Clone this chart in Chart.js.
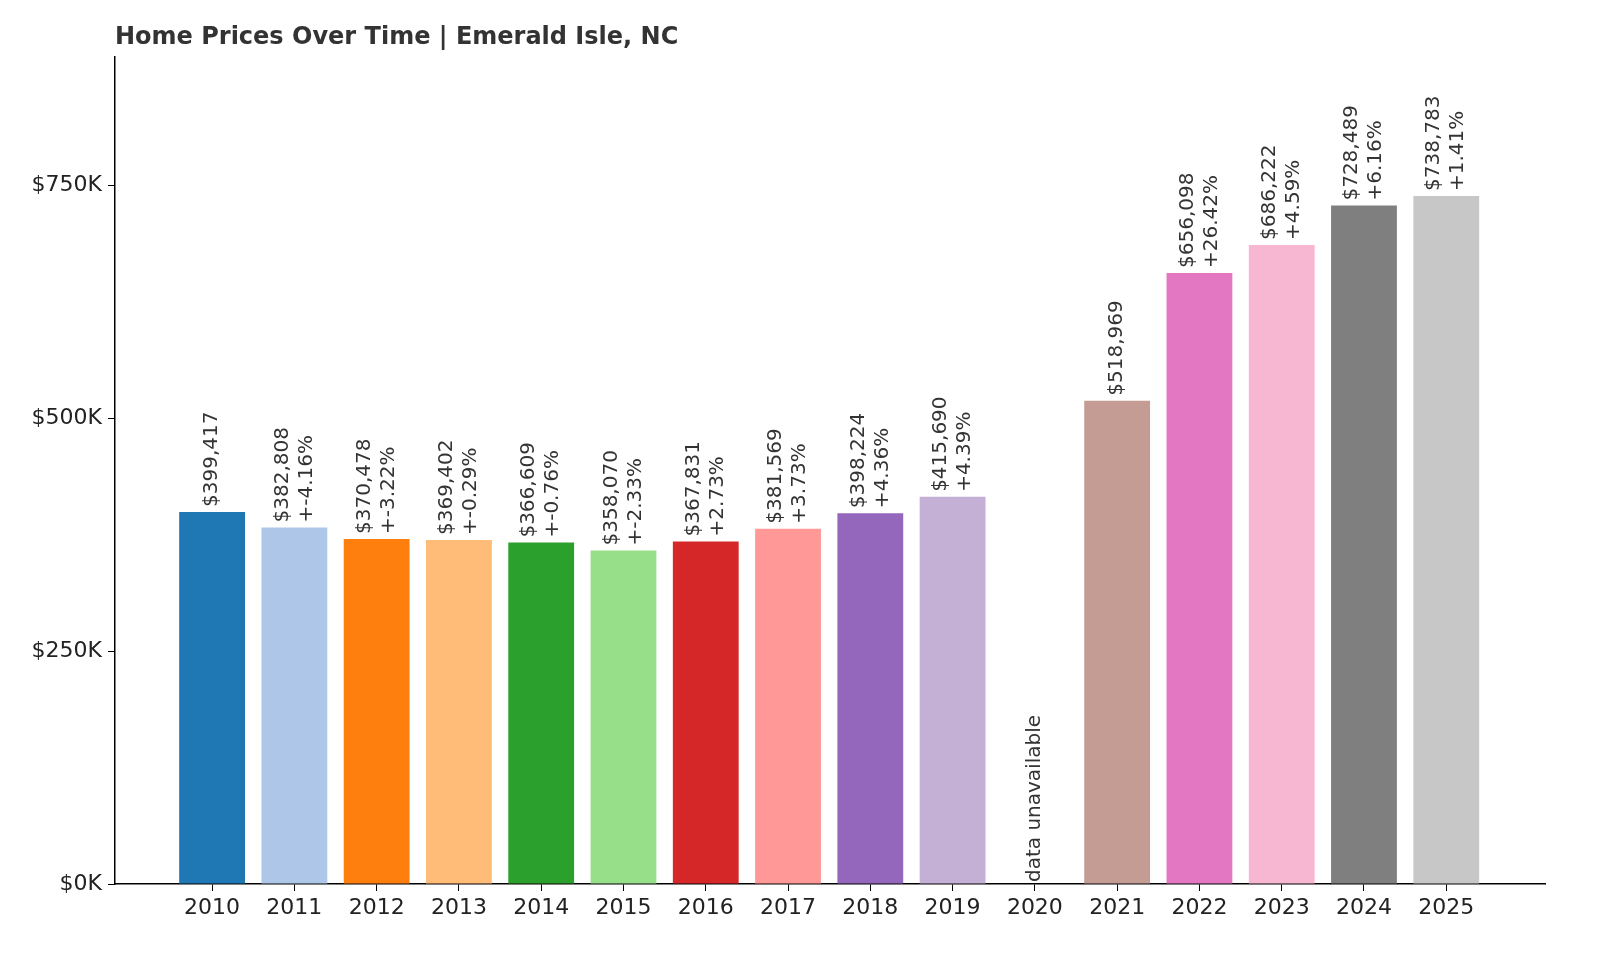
<!DOCTYPE html>
<html><head><meta charset="utf-8">
<script src="https://cdn.jsdelivr.net/npm/chart.js@4/dist/chart.umd.min.js"></script>
<style>body{margin:0;background:#fff}canvas{display:block}</style>
</head><body><canvas id="c" width="1600" height="960"></canvas>
<script>
const years = ["2010","2011","2012","2013","2014","2015","2016","2017","2018","2019","2020","2021","2022","2023","2024","2025"];
const prices = [399417,382808,370478,369402,366609,358070,367831,381569,398224,415690,null,518969,656098,686222,728489,738783];
const changes = [null,"+-4.16%","+-3.22%","+-0.29%","+-0.76%","+-2.33%","+2.73%","+3.73%","+4.36%","+4.39%",null,null,"+26.42%","+4.59%","+6.16%","+1.41%"];
const colors = ["#1f77b4","#aec7e8","#ff7f0e","#ffbb78","#2ca02c","#98df8a","#d62728","#ff9896","#9467bd","#c5b0d5","#8c564b","#c49c94","#e377c2","#f7b6d2","#7f7f7f","#c7c7c7"];
const yTicks = [0,250000,500000,750000];

const labelPlugin = {
  id:'lbl',
  afterDatasetsDraw(chart){
    const ctx = chart.ctx;
    const ys = chart.scales.y;
    ctx.save();
    ctx.font = '20px "DejaVu Sans"';
    ctx.fillStyle = '#333';
    ctx.textBaseline = 'middle';
    ctx.textAlign = 'left';
    years.forEach((y,i)=>{
      const x = chart.scales.x.getPixelForValue(i);
      let lines, base;
      if (prices[i]==null){ lines=["data unavailable"]; base = ys.getPixelForValue(0)-2; }
      else {
        lines=["$"+prices[i].toLocaleString("en-US")];
        if (changes[i]) lines.push(changes[i]);
        base = ys.getPixelForValue(prices[i])-5;
      }
      const lh = 24;
      lines.forEach((t,k)=>{
        const off = (k-(lines.length-1)/2)*lh;
        ctx.save();
        ctx.translate(x+off, base);
        ctx.rotate(-Math.PI/2);
        ctx.fillText(t,0,0);
        ctx.restore();
      });
    });
    ctx.font = 'bold 24px "DejaVu Sans"';
    ctx.fillStyle = '#333';
    ctx.textBaseline = 'alphabetic';
    ctx.fillText("Home Prices Over Time | Emerald Isle, NC", 115, 44);
    ctx.restore();
  }
};

new Chart(document.getElementById('c'),{
  type:'bar',
  data:{datasets:[{data:prices.map((p,i)=>({x:i,y:p})),backgroundColor:colors,barPercentage:0.8,categoryPercentage:1}]},
  options:{
    responsive:false,animation:false,
    layout:{padding:{top:57,right:55,left:0,bottom:0}},
    plugins:{legend:{display:false},tooltip:{enabled:false}},
    scales:{
      x:{type:'linear',min:-1.18,max:16.2,offset:false,
        afterBuildTicks(s){s.ticks=years.map((_,i)=>({value:i}));},
        afterFit(s){s.height=76;},
        ticks:{callback:(v)=>years[v]??'',font:{size:22,family:'DejaVu Sans'},color:'#222',maxRotation:0,autoSkip:false,padding:4},
        grid:{offset:false,drawOnChartArea:false,tickLength:7,color:'#000'},border:{color:'#000',width:1.5}},
      y:{min:0,max:888000,
        afterBuildTicks(s){s.ticks=yTicks.map(v=>({value:v}));},
        afterFit(s){s.width=115;},
        ticks:{callback:v=>"$"+(v/1000)+"K",font:{size:22,family:'DejaVu Sans'},color:'#222',padding:6},
        grid:{drawOnChartArea:false,tickLength:7,color:'#000'},border:{color:'#000',width:1.5}}
    }
  },
  plugins:[labelPlugin]
});
</script></body></html>
